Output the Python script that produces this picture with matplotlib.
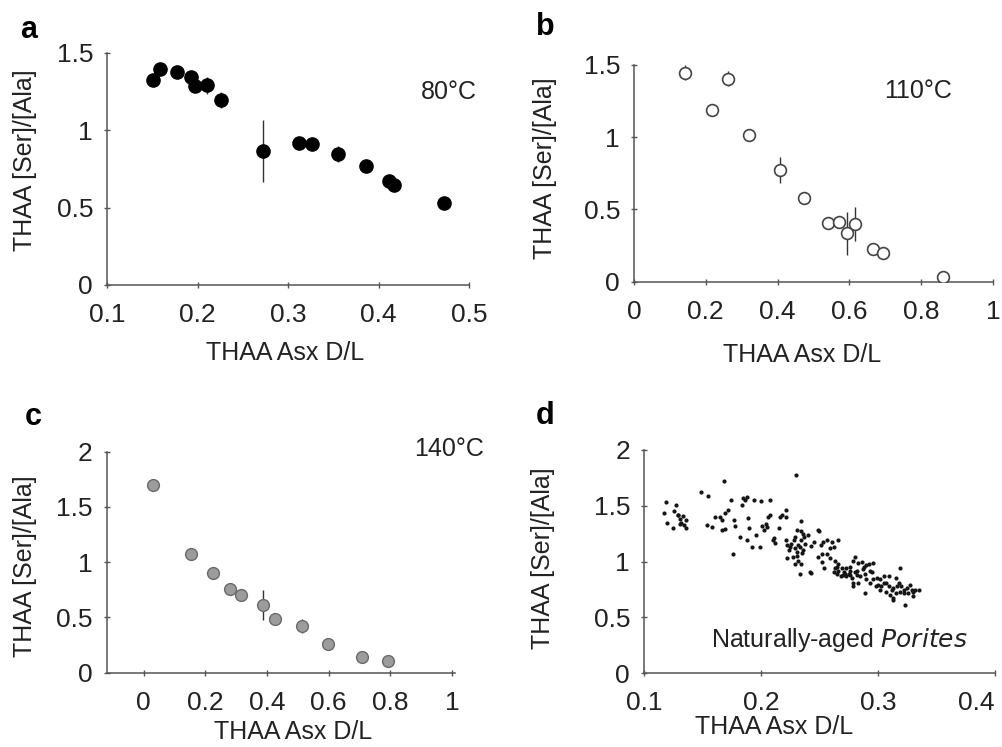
import matplotlib
matplotlib.use("Agg")
import matplotlib.pyplot as plt

plt.rcParams['font.family'] = ['Liberation Sans', 'DejaVu Sans']
plt.rcParams['font.size'] = 18

# panel a: 80 C
a_x = [0.1505, 0.1586, 0.177, 0.193, 0.197, 0.210, 0.226, 0.272, 0.3125, 0.327,
       0.355, 0.386, 0.412, 0.4175, 0.4727]
a_y = [1.325, 1.396, 1.379, 1.342, 1.286, 1.29, 1.196, 0.868, 0.916, 0.909,
       0.847, 0.771, 0.672, 0.646, 0.528]
a_err = [0.02, 0.04, 0.0, 0.0, 0.0, 0.057, 0.05, 0.2, 0.0, 0.0,
         0.05, 0.0, 0.0, 0.0, 0.0]

# panel b: 110 C
b_x = [0.141, 0.217, 0.262, 0.320, 0.406, 0.4735, 0.540, 0.570, 0.594, 0.6165,
       0.666, 0.695, 0.861]
b_y = [1.447, 1.188, 1.405, 1.015, 0.773, 0.577, 0.408, 0.415, 0.335, 0.399,
       0.224, 0.196, 0.035]
b_err = [0.05, 0.0, 0.05, 0.0, 0.087, 0.0, 0.0, 0.0, 0.15, 0.12,
         0.0, 0.04, 0.0]

# panel c: 140 C
c_x = [0.030, 0.155, 0.225, 0.281, 0.317, 0.387, 0.427, 0.513, 0.598, 0.708, 0.792]
c_y = [1.696, 1.078, 0.904, 0.756, 0.702, 0.611, 0.485, 0.422, 0.259, 0.139, 0.108]
c_err = [0.0, 0.0, 0.0, 0.0, 0.0, 0.135, 0.0, 0.06, 0.0, 0.0, 0.0]

# panel d: naturally-aged Porites
d_x = [0.119, 0.127, 0.117, 0.126, 0.129, 0.133, 0.120, 0.131, 0.125, 0.132,
       0.136, 0.136, 0.129, 0.131, 0.134,
       0.149, 0.155, 0.168, 0.174, 0.172, 0.169, 0.167, 0.161, 0.154, 0.158,
       0.167, 0.169, 0.177, 0.178, 0.176, 0.165, 0.185, 0.186, 0.184, 0.188,
       0.194, 0.200, 0.208, 0.189, 0.182, 0.190, 0.188, 0.192, 0.199, 0.196,
       0.203, 0.204, 0.206, 0.208, 0.205, 0.201, 0.211, 0.212, 0.218, 0.216,
       0.221, 0.221, 0.215, 0.210, 0.230, 0.234, 0.236, 0.240, 0.237, 0.234,
       0.231, 0.221, 0.222, 0.224, 0.226, 0.229, 0.231, 0.233, 0.235, 0.222,
       0.227, 0.231, 0.232, 0.234, 0.229, 0.233, 0.242, 0.243, 0.249, 0.250,
       0.245, 0.243, 0.251, 0.253, 0.256, 0.261, 0.266, 0.252, 0.256, 0.262,
       0.259, 0.249, 0.252, 0.254, 0.259, 0.263, 0.265, 0.266, 0.269, 0.271,
       0.273, 0.272, 0.275, 0.263, 0.268, 0.270, 0.265, 0.273, 0.276, 0.262,
       0.266, 0.225, 0.228, 0.232, 0.236, 0.238, 0.229, 0.234,
       0.276, 0.278, 0.279, 0.280, 0.282, 0.283, 0.286, 0.288, 0.290, 0.292,
       0.293, 0.295, 0.296, 0.289, 0.285, 0.282, 0.276, 0.279, 0.280, 0.296,
       0.299, 0.302, 0.305, 0.303, 0.307, 0.309, 0.312, 0.313, 0.316, 0.315,
       0.310, 0.307, 0.302, 0.300, 0.298, 0.293, 0.290, 0.289, 0.313, 0.319,
       0.315, 0.318, 0.320, 0.322, 0.325, 0.327, 0.329, 0.330, 0.332, 0.335,
       0.326, 0.322, 0.319, 0.330, 0.323, 0.313, 0.279, 0.283, 0.305, 0.309,
       0.287]
d_y = [1.53, 1.51, 1.44, 1.45, 1.42, 1.41, 1.35, 1.38, 1.30, 1.35,
       1.37, 1.30, 1.42, 1.34, 1.33,
       1.62, 1.59, 1.72, 1.55, 1.46, 1.44, 1.37, 1.40, 1.33, 1.31,
       1.28, 1.29, 1.37, 1.32, 1.07, 1.40, 1.57, 1.55, 1.51, 1.58,
       1.55, 1.54, 1.55, 1.39, 1.22, 1.30, 1.19, 1.13, 1.13, 1.24,
       1.28, 1.34, 1.40, 1.42, 1.31, 1.32, 1.21, 1.17, 1.42, 1.40,
       1.46, 1.40, 1.30, 1.19, 1.78, 1.36, 1.25, 1.24, 1.22, 1.27,
       1.28, 1.19, 1.15, 1.10, 1.16, 1.12, 1.09, 1.13, 1.08, 1.03,
       1.04, 1.05, 1.01, 0.98, 0.98, 0.89, 0.91, 0.90, 1.28, 1.27,
       1.18, 1.14, 1.15, 1.18, 1.19, 1.18, 1.19, 1.07, 1.07, 1.13,
       1.12, 1.04, 1.00, 0.94, 1.03, 1.01, 0.95, 0.92, 0.94, 0.91,
       0.94, 0.89, 0.89, 0.94, 0.87, 0.88, 0.89, 0.87, 0.92, 0.91,
       0.98, 1.13, 1.19, 1.15, 1.10, 1.16, 1.22, 1.19,
       0.88, 0.85, 0.81, 0.91, 0.92, 0.99, 1.00, 0.95, 0.97, 0.98,
       0.92, 0.91, 0.99, 0.89, 0.87, 0.88, 0.95, 1.01, 1.04, 0.84,
       0.85, 0.84, 0.81, 0.78, 0.81, 0.78, 0.75, 0.76, 0.78, 0.72,
       0.70, 0.73, 0.75, 0.79, 0.78, 0.81, 0.84, 0.72, 0.67, 0.94,
       0.85, 0.81, 0.78, 0.75, 0.76, 0.79, 0.75, 0.73, 0.75, 0.75,
       0.72, 0.72, 0.73, 0.69, 0.61, 0.66, 0.78, 0.81, 0.87, 0.87,
       0.93]

SPINE = '#555555'
TEXT = '#222222'


def style_axes(ax):
    for side in ['top', 'right']:
        ax.spines[side].set_visible(False)
    for side in ['left', 'bottom']:
        ax.spines[side].set_color(SPINE)
        ax.spines[side].set_linewidth(1.1)
    ax.tick_params(direction='inout', length=4, width=1, color=SPINE,
                   labelcolor=TEXT, labelsize=19)
    ax.tick_params(axis='x', pad=11)
    ax.tick_params(axis='y', pad=8)


def set_labels(ax, xpos, ypos):
    ax.set_xlabel('THAA Asx D/L', va='center', color=TEXT)
    ax.set_ylabel('THAA [Ser]/[Ala]', va='center', color=TEXT)
    ax.xaxis.set_label_coords(*xpos)
    ax.yaxis.set_label_coords(*ypos)


def fmt(v):
    return '%g' % round(v, 2)


def set_ticks(ax, xt, yt):
    ax.set_xticks(xt)
    ax.set_yticks(yt)
    ax.set_xticklabels([fmt(t) for t in xt])
    ax.set_yticklabels([fmt(t) for t in yt])


fig = plt.figure(figsize=(10.02, 7.47), dpi=100)

# a
ax = fig.add_axes([0.1068, 0.6185, 0.3613, 0.3106])
ax.errorbar(a_x, a_y, yerr=a_err, fmt='none', ecolor='#333333', elinewidth=1, zorder=2)
ax.plot(a_x, a_y, 'o', color='black', markersize=9.5, zorder=3)
ax.set_xlim(0.1, 0.5)
ax.set_ylim(0, 1.5)
set_ticks(ax, [0.1, 0.2, 0.3, 0.4, 0.5], [0, 0.5, 1, 1.5])
style_axes(ax)
set_labels(ax, (0.492, -0.293), (-0.2265, 0.539))
ax.text(0.945, 0.832, '80°C', transform=ax.transAxes, ha='center', va='center',
        color=TEXT)

# b
ax = fig.add_axes([0.6327, 0.6229, 0.3583, 0.2901])
ax.errorbar(b_x, b_y, yerr=b_err, fmt='none', ecolor='#333333', elinewidth=1, zorder=2)
ax.plot(b_x, b_y, 'o', markerfacecolor='white', markeredgecolor='#444444',
        markeredgewidth=1.2, markersize=8.5, zorder=3)
ax.set_xlim(0, 1)
ax.set_ylim(0, 1.5)
set_ticks(ax, [0, 0.2, 0.4, 0.6, 0.8, 1], [0, 0.5, 1, 1.5])
style_axes(ax)
set_labels(ax, (0.468, -0.338), (-0.248, 0.525))
ax.text(0.791, 0.88, '110°C', transform=ax.transAxes, ha='center', va='center',
        color=TEXT)

# c
ax = fig.add_axes([0.1065, 0.0995, 0.3476, 0.2958])
ax.errorbar(c_x, c_y, yerr=c_err, fmt='none', ecolor='#333333', elinewidth=1, zorder=2)
ax.plot(c_x, c_y, 'o', markerfacecolor='#9c9c9c', markeredgecolor='#6a6a6a',
        markeredgewidth=1, markersize=8.5, zorder=3)
ax.set_xlim(-0.12, 1.01)
ax.set_ylim(0, 2)
set_ticks(ax, [0, 0.2, 0.4, 0.6, 0.8, 1], [0, 0.5, 1, 1.5, 2])
style_axes(ax)
set_labels(ax, (0.535, -0.267), (-0.2346, 0.48))
ax.text(0.983, 1.014, '140°C', transform=ax.transAxes, ha='center', va='center',
        color=TEXT)

# d
ax = fig.add_axes([0.6427, 0.0987, 0.3503, 0.2989])
ax.scatter(d_x, d_y, s=9, color='#151515', linewidths=0)
ax.set_xlim(0.1, 0.4)
ax.set_ylim(0, 2)
set_ticks(ax, [0.1, 0.2, 0.3, 0.4], [0, 0.5, 1, 1.5, 2])
style_axes(ax)
ax.get_xticklabels()[-1].set_ha('right')
ax.get_xticklabels()[-1].set_x(0.405)
set_labels(ax, (0.37, -0.24), (-0.288, 0.516))
ax.text(0.558, 0.149, 'Naturally-aged $\\it{Porites}$', transform=ax.transAxes,
        ha='center', va='center', color=TEXT)

# panel letters
for x, y, letter in [(0.020, 0.949, 'a'), (0.535, 0.953, 'b'),
                     (0.025, 0.431, 'c'), (0.535, 0.433, 'd')]:
    fig.text(x, y, letter, fontsize=22, fontweight='bold', ha='left', va='baseline')

fig.savefig('out.png', dpi=100)
